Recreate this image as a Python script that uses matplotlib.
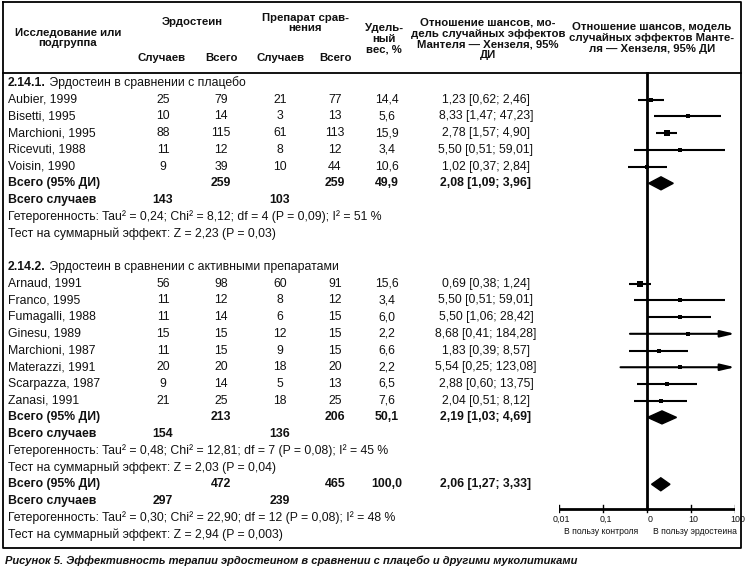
import matplotlib.pyplot as plt
import numpy as np
from matplotlib.patches import Polygon

plt.rcParams['font.family'] = ['Liberation Sans', 'DejaVu Sans']

# данные исследований
studies1 = ['Aubier, 1999', 'Bisetti, 1995', 'Marchioni, 1995', 'Ricevuti, 1988', 'Voisin, 1990']
ev_e1 = [25, 10, 88, 11, 9]
tot_e1 = [79, 14, 115, 12, 39]
ev_c1 = [21, 3, 61, 8, 10]
tot_c1 = [77, 13, 113, 12, 44]
w1 = [14.4, 5.6, 15.9, 3.4, 10.6]
or1 = [1.23, 8.33, 2.78, 5.50, 1.02]
lo1 = [0.62, 1.47, 1.57, 0.51, 0.37]
hi1 = [2.46, 47.23, 4.90, 59.01, 2.84]

studies2 = ['Arnaud, 1991', 'Franco, 1995', 'Fumagalli, 1988', 'Ginesu, 1989',
            'Marchioni, 1987', 'Materazzi, 1991', 'Scarpazza, 1987', 'Zanasi, 1991']
ev_e2 = [56, 11, 11, 15, 11, 20, 9, 21]
tot_e2 = [98, 12, 14, 15, 15, 20, 14, 25]
ev_c2 = [60, 8, 6, 12, 9, 18, 5, 18]
tot_c2 = [91, 12, 15, 15, 15, 20, 13, 25]
w2 = [15.6, 3.4, 6.0, 2.2, 6.6, 2.2, 6.5, 7.6]
or2 = [0.69, 5.50, 5.50, 8.68, 1.83, 5.54, 2.88, 2.04]
lo2 = [0.38, 0.51, 1.06, 0.41, 0.39, 0.25, 0.60, 0.51]
hi2 = [1.24, 59.01, 28.42, 184.28, 8.57, 123.08, 13.75, 8.12]

# итоги: подгруппа 1, подгруппа 2, всего
tot_tot_e = [259, 213, 472]
tot_tot_c = [259, 206, 465]
tot_ev_e = [143, 154, 297]
tot_ev_c = [103, 136, 239]
tot_w = [49.9, 50.1, 100.0]
tot_or = [2.08, 2.19, 2.06]
tot_lo = [1.09, 1.03, 1.27]
tot_hi = [3.96, 4.69, 3.33]
heterog = ['Гетерогенность: Tau² = 0,24; Chi² = 8,12; df = 4 (P = 0,09); I² = 51 %',
           'Гетерогенность: Tau² = 0,48; Chi² = 12,81; df = 7 (P = 0,08); I² = 45 %',
           'Гетерогенность: Tau² = 0,30; Chi² = 22,90; df = 12 (P = 0,08); I² = 48 %']
overall_test = ['Тест на суммарный эффект: Z = 2,23 (P = 0,03)',
                'Тест на суммарный эффект: Z = 2,03 (P = 0,04)',
                'Тест на суммарный эффект: Z = 2,94 (P = 0,003)']
sections = [('2.14.1.', ' Эрдостеин в сравнении с плацебо'),
            ('2.14.2.', ' Эрдостеин в сравнении с активными препаратами')]

ticks = [0.01, 0.1, 1, 10, 100]
tick_labels = ['0,01', '0,1', '0', '10', '100']

W, H = 747, 571
fig = plt.figure(figsize=(W / 100, H / 100), dpi=100)
ax = fig.add_axes([0, 0, 1, 1])
ax.set_xlim(0, W)
ax.set_ylim(H, 0)
ax.axis('off')

fx0, fx1 = 559, 735
fa = fig.add_axes([fx0 / W, 0, (fx1 - fx0) / W, 1])
fa.set_xscale('log')
fa.set_xlim(0.01, 100)
fa.set_ylim(H, 0)
fa.axis('off')

fs = 8.8
hfs = 8.2
col = '#111111'

def fmt(v, d=1):
    return f'{v:.{d}f}'.replace('.', ',')

def ci_text(o, l, h):
    return f'{fmt(o, 2)} [{fmt(l, 2)}; {fmt(h, 2)}]'

# рамка и линия заголовка
ax.plot([3, 741, 741, 3, 3], [2, 2, 548, 548, 2], color='k', lw=1.3)
ax.plot([3, 741], [73, 73], color='k', lw=1.3)

# заголовок
hkw = dict(fontsize=hfs, fontweight='bold', ha='center', va='center', color=col, linespacing=1.1)
ax.text(68, 38, 'Исследование или\nподгруппа', **hkw)
ax.text(192, 22, 'Эрдостеин', **hkw)
ax.text(305, 23, 'Препарат срав-\nнения', **hkw)
ax.text(162, 58, 'Случаев', **hkw)
ax.text(221, 58, 'Всего', **hkw)
ax.text(281, 58, 'Случаев', **hkw)
ax.text(335, 58, 'Всего', **hkw)
ax.text(384, 39, 'Удель-\nный\nвес, %', **hkw)
ax.text(488, 39, 'Отношение шансов, мо-\nдель случайных эффектов\nМантеля — Хензеля, 95%\nДИ', **hkw)
ax.text(652, 38, 'Отношение шансов, модель\nслучайных эффектов Манте-\nля — Хензеля, 95% ДИ', **hkw)

x_name, x_ee, x_te, x_ec, x_tc, x_w, x_ci = 8, 163, 221, 280, 335, 387, 486

def row_y(i):
    return 83 + i * 16.72

def square_size(w):
    return (3.3 + w * 0.11) * 0.72

def study_row(i, name, ee, te, ec, tc, w, o, l, h):
    y = row_y(i)
    kw = dict(fontsize=fs, va='center', color=col)
    ax.text(x_name, y, name, ha='left', **kw)
    ax.text(x_ee, y, str(ee), ha='center', **kw)
    ax.text(x_te, y, str(te), ha='center', **kw)
    ax.text(x_ec, y, str(ec), ha='center', **kw)
    ax.text(x_tc, y, str(tc), ha='center', **kw)
    ax.text(x_w, y, fmt(w), ha='center', **kw)
    ax.text(x_ci, y, ci_text(o, l, h), ha='center', **kw)
    if h > 100:
        fa.annotate('', xy=(100, y), xytext=(l, y),
                    arrowprops=dict(arrowstyle='-|>,head_length=0.85,head_width=0.2',
                                    lw=1.5, color='k', shrinkA=0, shrinkB=0))
    else:
        fa.plot([l, h], [y, y], color='k', lw=1.5, solid_capstyle='butt')
    fa.plot([o], [y], marker='s', ms=square_size(w), color='k', mew=0)

def total_block(i, k):
    y = row_y(i)
    kw = dict(fontsize=fs, va='center', color=col, fontweight='bold')
    ax.text(x_name, y, 'Всего (95% ДИ)', ha='left', **kw)
    ax.text(x_te, y, str(tot_tot_e[k]), ha='center', **kw)
    ax.text(x_tc, y, str(tot_tot_c[k]), ha='center', **kw)
    ax.text(x_w, y, fmt(tot_w[k]), ha='center', **kw)
    ax.text(x_ci, y, ci_text(tot_or[k], tot_lo[k], tot_hi[k]), ha='center', **kw)
    dh = 6.5
    fa.add_patch(Polygon([(tot_lo[k], y), (tot_or[k], y - dh), (tot_hi[k], y), (tot_or[k], y + dh)],
                         closed=True, color='k'))
    y2 = row_y(i + 1)
    ax.text(x_name, y2, 'Всего случаев', ha='left', **kw)
    ax.text(x_ee, y2, str(tot_ev_e[k]), ha='center', **kw)
    ax.text(x_ec, y2, str(tot_ev_c[k]), ha='center', **kw)
    nkw = dict(fontsize=fs, va='center', color=col, ha='left')
    ax.text(x_name, row_y(i + 2), heterog[k], **nkw)
    ax.text(x_name, row_y(i + 3), overall_test[k], **nkw)

def section_title(i, num, rest):
    y = row_y(i)
    t1 = ax.text(x_name, y, num, fontsize=fs, fontweight='bold', ha='left', va='center', color=col)
    ax.annotate(rest, xy=(1, 0), xycoords=t1, ha='left', va='bottom', fontsize=fs, color=col)

section_title(0, *sections[0])
for j in range(len(studies1)):
    study_row(1 + j, studies1[j], ev_e1[j], tot_e1[j], ev_c1[j], tot_c1[j], w1[j], or1[j], lo1[j], hi1[j])
total_block(6, 0)

section_title(11, *sections[1])
for j in range(len(studies2)):
    study_row(12 + j, studies2[j], ev_e2[j], tot_e2[j], ev_c2[j], tot_c2[j], w2[j], or2[j], lo2[j], hi2[j])
total_block(20, 1)
total_block(24, 2)

# вертикальная линия и ось
y_axis = 509
fa.plot([1, 1], [73, y_axis], color='k', lw=2)
fa.plot([ticks[0], ticks[-1]], [y_axis, y_axis], color='k', lw=2)
for tv, tl in zip(ticks, tick_labels):
    fa.plot([tv, tv], [y_axis - 4, y_axis + 3], color='k', lw=1)
    fa.text(tv * 1.15, y_axis + 10, tl, fontsize=6.4, ha='center', va='center', color=col)
fa.text(0.09, 531, 'В пользу контроля', fontsize=6.2, ha='center', va='center', color=col)
fa.text(12.3, 531, 'В пользу эрдостеина', fontsize=6.2, ha='center', va='center', color=col)

ax.text(5, 561, 'Рисунок 5. Эффективность терапии эрдостеином в сравнении с плацебо и другими муколитиками',
        fontsize=8.0, fontweight='bold', fontstyle='italic', ha='left', va='center', color=col)

fig.savefig('out.png', dpi=100)
